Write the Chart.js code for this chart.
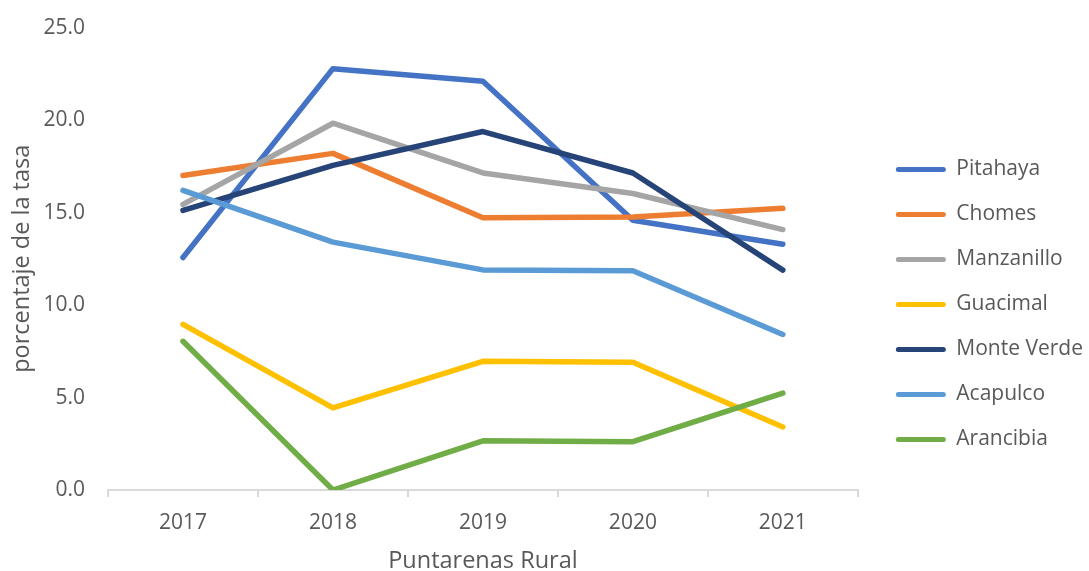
<!DOCTYPE html>
<html>
<head>
<meta charset="utf-8">
<script src="https://cdn.jsdelivr.net/npm/chart.js@4"></script>
<style>
  html, body { margin: 0; padding: 0; background: #fff; }
  #wrap { width: 1089px; height: 571px; }
</style>
</head>
<body>
<div id="wrap"><canvas id="chart"></canvas></div>
<script>
const years = ["2017", "2018", "2019", "2020", "2021"];

const pitahaya   = [12.57, 22.78, 22.1, 14.58, 13.29];
const chomes     = [17.0, 18.2, 14.72, 14.76, 15.23];
const manzanillo = [15.44, 19.83, 17.14, 16.03, 14.08];
const guacimal   = [8.95, 4.44, 6.96, 6.91, 3.41];
const monteVerde = [15.12, 17.55, 19.38, 17.14, 11.89];
const acapulco   = [16.2, 13.4, 11.9, 11.85, 8.41];
const arancibia  = [8.04, 0.0, 2.66, 2.61, 5.24];

const seriesNames  = ["Pitahaya", "Chomes", "Manzanillo", "Guacimal", "Monte Verde", "Acapulco", "Arancibia"];
const seriesValues = [pitahaya, chomes, manzanillo, guacimal, monteVerde, acapulco, arancibia];
const seriesColors = ["#4472C4", "#ED7D31", "#A5A5A5", "#FFC000", "#264478", "#5B9BD5", "#70AD47"];

const textColor = "#595959";
const fontSize = 21;
const titleSize = 23.5;
const legendPad = 24;

Chart.defaults.font.family = "'Open Sans', sans-serif";
Chart.defaults.color = textColor;

const datasets = seriesNames.map((name, i) => ({
    label: name,
    data: seriesValues[i],
    borderColor: seriesColors[i],
    backgroundColor: seriesColors[i],
    borderWidth: 5.5,
    pointRadius: 0,
    tension: 0,
    borderCapStyle: "round",
    borderJoinStyle: "round",
    order: seriesNames.length - i
}));

// nudge the legend away from the plot and down a bit, like Excel does
const legendGap = {
    id: "legendGap",
    afterLayout(chart) {
        const lg = chart.legend;
        if (!lg) return;
        const dx = chart.chartArea.right + 38 - legendPad - lg.left;
        lg.left += dx;
        lg.right += dx;
        lg.top += 9;
        lg.bottom += 9;
    }
};

new Chart(document.getElementById("chart"), {
    type: "line",
    data: { labels: years, datasets: datasets },
    plugins: [legendGap],
    options: {
        responsive: true,
        maintainAspectRatio: false,
        animation: false,
        layout: { padding: { top: 16, right: 10, bottom: -4, left: 0 } },
        plugins: {
            tooltip: { enabled: false },
            legend: {
                position: "right",
                labels: {
                    boxWidth: 50,
                    boxHeight: 5,
                    padding: legendPad,
                    color: textColor,
                    font: { size: fontSize },
                    sort: (a, b) => a.datasetIndex - b.datasetIndex,
                    generateLabels: (chart) => {
                        const items = Chart.defaults.plugins.legend.labels.generateLabels(chart);
                        items.forEach(it => {
                            it.lineWidth = 0;
                            it.fillStyle = seriesColors[it.datasetIndex];
                            it.borderRadius = 2.5;
                        });
                        return items;
                    }
                }
            }
        },
        scales: {
            x: {
                offset: true,
                grid: {
                    display: true,
                    drawOnChartArea: false,
                    drawTicks: true,
                    tickLength: 7,
                    offset: true,
                    color: "#D9D9D9",
                    lineWidth: 2
                },
                border: { display: true, color: "#D9D9D9", width: 2 },
                ticks: { color: textColor, font: { size: fontSize }, padding: 13 },
                title: {
                    display: true,
                    text: "Puntarenas Rural",
                    color: textColor,
                    font: { size: titleSize },
                    padding: { top: 0, bottom: 0 }
                },
                afterFit: (scale) => { scale.height = 85; }
            },
            y: {
                min: 0,
                max: 25,
                grid: { display: false },
                border: { display: false },
                ticks: {
                    stepSize: 5,
                    padding: 15,
                    color: textColor,
                    font: { size: fontSize },
                    callback: (v) => Number(v).toFixed(1)
                },
                title: {
                    display: true,
                    text: "porcentaje de la tasa",
                    color: textColor,
                    font: { size: titleSize },
                    padding: { top: 8, bottom: 0 }
                },
                afterFit: (scale) => { scale.width = 108; }
            }
        }
    }
});
</script>
</body>
</html>
